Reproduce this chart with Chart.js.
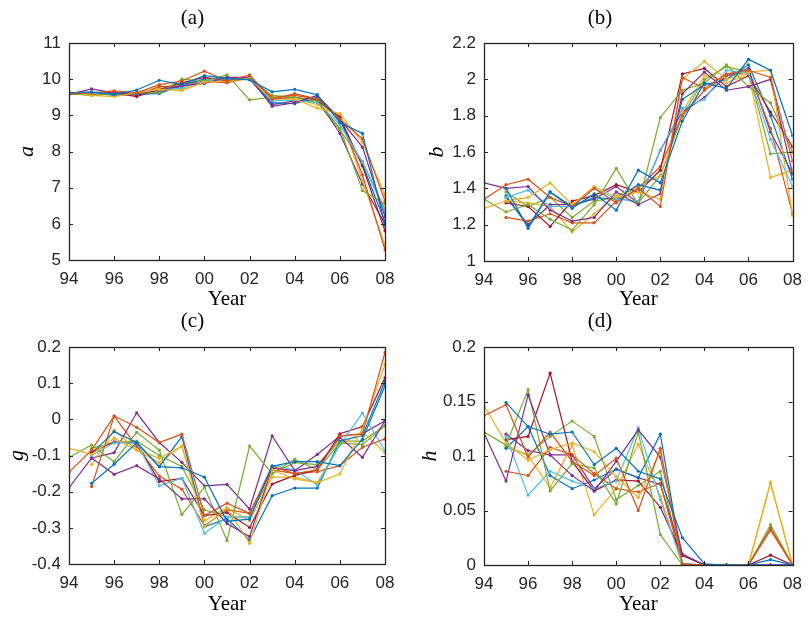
<!DOCTYPE html>
<html>
<head>
<meta charset="utf-8">
<script src="https://cdn.jsdelivr.net/npm/chart.js@4.4.0/dist/chart.umd.min.js"></script>
<style>
  body { margin: 0; background: #fff; }
  #wrap { position: relative; width: 811px; height: 617px; overflow: hidden; }
  canvas { position: absolute; }
</style>
</head>
<body>
<div id="wrap">
  <canvas id="chartA" width="420" height="312" style="left:0;top:0"></canvas>
  <canvas id="chartB" width="411" height="312" style="left:400px;top:0"></canvas>
  <canvas id="chartC" width="420" height="321" style="left:0;top:296px"></canvas>
  <canvas id="chartD" width="411" height="321" style="left:400px;top:296px"></canvas>
</div>
<script>
const years = [1994, 1995, 1996, 1997, 1998, 1999, 2000, 2001, 2002, 2003, 2004, 2005, 2006, 2007, 2008];
const colors = ['#0072BD', '#D95319', '#EDB120', '#7E2F8E', '#77AC30', '#4DBEEE', '#A2142F'];

const ticksA = [5, 6, 7, 8, 9, 10, 11];
const ticksB = [1, 1.2, 1.4, 1.6, 1.8, 2, 2.2];
const ticksC = [-0.4, -0.3, -0.2, -0.1, 0, 0.1, 0.2];
const ticksD = [0, 0.05, 0.1, 0.15, 0.2];

// panel (a)
const seriesA = [
  [9.62, 9.65, 9.58, 9.70, 9.97, 9.85, 10.10, 10.02, 9.98, 9.65, 9.72, 9.57, 8.80, 8.50, 5.97],
  [9.60, 9.62, 9.68, 9.62, 9.85, 9.95, 10.22, 9.95, 10.12, 9.45, 9.60, 9.45, 8.90, 8.35, 6.63],
  [9.65, 9.55, 9.52, 9.62, 9.72, 9.68, 9.92, 9.95, 10.02, 9.45, 9.45, 9.20, 9.05, 8.25, 6.80],
  [9.58, 9.73, 9.62, 9.60, 9.70, 9.82, 9.88, 10.05, 10.05, 9.25, 9.35, 9.55, 8.90, 8.12, 6.20],
  [9.60, 9.55, 9.60, 9.62, 9.62, 10.00, 9.95, 10.12, 9.43, 9.50, 9.50, 9.40, 8.65, 6.92, 6.55],
  [9.62, 9.60, 9.58, 9.65, 9.70, 9.75, 9.95, 10.00, 10.00, 9.40, 9.42, 9.35, 8.75, 7.70, 6.34],
  [9.60, 9.58, 9.62, 9.52, 9.72, 9.90, 10.05, 9.95, 10.05, 9.45, 9.50, 9.40, 8.95, 7.60, 5.81],
  [9.60, 9.62, 9.55, 9.58, 9.60, 9.85, 10.00, 10.05, 10.00, 9.35, 9.32, 9.50, 8.85, 7.65, 6.05],
  [9.58, 9.60, 9.65, 9.55, 9.80, 9.80, 9.95, 9.90, 10.05, 9.50, 9.55, 9.45, 8.95, 7.35, 5.28],
  [9.60, 9.58, 9.60, 9.60, 9.75, 9.72, 9.90, 9.95, 10.00, 9.50, 9.45, 9.30, 9.00, 7.20, 5.40],
  [9.60, 9.60, 9.58, 9.62, 9.65, 9.80, 9.95, 10.00, 10.00, 9.30, 9.40, 9.45, 8.50, 7.10, 6.00],
  [9.62, 9.55, 9.60, 9.60, 9.65, 9.90, 9.90, 10.05, 10.00, 9.55, 9.50, 9.35, 8.60, 7.72, 6.40]
];

// panel (b)
const seriesB = [
  [null, 1.40, 1.18, 1.38, 1.29, 1.37, 1.28, 1.50, 1.43, 1.77, 1.98, 1.95, 2.11, 2.05, 1.69],
  [1.34, 1.42, 1.45, 1.35, 1.30, 1.40, 1.32, 1.40, 1.30, 2.01, 1.95, 2.03, 2.05, 2.01, 1.55],
  [1.29, 1.33, 1.35, 1.43, 1.31, 1.41, 1.35, 1.38, 1.34, 2.00, 2.10, 2.00, 2.04, 2.05, 1.25],
  [1.43, 1.40, 1.41, 1.28, 1.22, 1.24, 1.38, 1.31, 1.37, 1.92, 2.04, 1.94, 1.96, 2.00, 1.48],
  [1.34, 1.27, 1.31, 1.23, 1.17, 1.31, 1.51, 1.31, 1.79, 1.94, 1.98, 2.08, 1.96, 1.87, 1.60],
  [null, 1.35, 1.39, 1.30, 1.30, 1.40, 1.34, 1.33, 1.61, 1.84, 1.89, 2.05, 2.03, 1.67, 1.41],
  [null, 1.32, 1.30, 1.19, 1.33, 1.36, 1.42, 1.38, 1.50, 2.03, 2.06, 1.96, 2.02, 1.82, 1.63],
  [null, 1.36, 1.19, 1.38, 1.30, 1.35, 1.34, 1.42, 1.39, 1.89, 1.97, 2.00, 2.08, 1.80, 1.45],
  [null, 1.24, 1.22, 1.26, 1.21, 1.21, 1.33, 1.40, 1.52, 1.80, 1.94, 2.02, 2.04, 1.73, 1.26],
  [null, 1.33, 1.32, 1.30, 1.16, 1.26, 1.36, 1.41, 1.47, 1.82, 2.02, 1.98, 2.03, 1.46, 1.50],
  [null, 1.35, 1.20, 1.31, 1.31, 1.34, 1.41, 1.32, 1.61, 1.82, 1.90, 2.02, 2.06, 1.71, 1.48],
  [null, 1.38, 1.30, 1.35, 1.24, 1.33, 1.35, 1.32, 1.47, 1.80, 2.00, 2.07, 2.04, 1.59, 1.60]
];

// panel (c)
const seriesC = [
  [null, -0.177, -0.124, -0.064, -0.131, -0.134, -0.160, -0.282, -0.276, -0.130, -0.117, -0.117, -0.128, -0.055, 0.093],
  [-0.146, -0.085, 0.009, -0.022, -0.064, -0.041, -0.266, -0.232, -0.260, -0.130, -0.150, -0.140, -0.046, -0.040, 0.185],
  [-0.080, -0.097, -0.052, -0.085, -0.108, -0.074, -0.297, -0.245, -0.343, -0.140, -0.165, -0.175, -0.151, -0.025, 0.152],
  [-0.189, -0.107, -0.152, -0.128, -0.165, -0.220, -0.220, -0.288, -0.324, -0.135, -0.142, -0.130, -0.050, -0.105, -0.004],
  [-0.105, -0.071, -0.117, -0.036, -0.085, -0.263, -0.188, -0.335, -0.074, -0.150, -0.110, -0.140, -0.065, -0.070, -0.018],
  [null, -0.100, -0.065, -0.065, -0.184, -0.163, -0.315, -0.270, -0.270, -0.127, -0.140, -0.181, -0.070, 0.017, -0.087],
  [null, -0.090, -0.062, -0.066, -0.172, -0.163, -0.266, -0.258, -0.299, -0.179, -0.155, -0.140, -0.040, -0.020, 0.115],
  [null, -0.095, -0.034, -0.064, -0.131, -0.048, -0.297, -0.275, -0.334, -0.211, -0.190, -0.190, -0.060, -0.045, 0.105],
  [null, -0.186, 0.009, -0.075, -0.157, -0.193, -0.294, -0.250, -0.260, -0.140, -0.150, -0.145, -0.128, -0.077, -0.054],
  [null, -0.125, -0.030, -0.085, -0.120, -0.074, -0.280, -0.245, -0.280, -0.160, -0.160, -0.175, -0.070, -0.035, -0.092],
  [null, -0.107, -0.092, 0.018, -0.064, -0.119, -0.184, -0.180, -0.248, -0.046, -0.142, -0.097, -0.046, -0.040, -0.004],
  [null, -0.080, -0.065, -0.060, -0.100, -0.130, -0.250, -0.270, -0.270, -0.150, -0.120, -0.125, -0.060, -0.060, -0.018]
];

// panel (d)
const seriesD = [
  [null, 0.149, 0.127, 0.120, 0.122, 0.092, 0.107, 0.086, 0.079, 0.025, 0.001, 0, 0, 0.005, 0],
  [0.137, 0.147, 0.099, 0.122, 0.095, 0.082, 0.098, 0.050, 0.107, 0.001, 0, 0, 0, 0.034, 0],
  [0.146, 0.112, 0.096, 0.106, 0.112, 0.104, 0.081, 0.062, 0.104, 0, 0, 0, 0, 0.076, 0],
  [0.121, 0.077, 0.156, 0.101, 0.082, 0.068, 0.095, 0.124, 0.099, 0.010, 0, 0, 0, 0, 0],
  [0.122, 0.110, 0.161, 0.068, 0.093, 0.089, 0.056, 0.122, 0.028, 0, 0, 0, 0, 0.037, 0],
  [null, 0.118, 0.064, 0.086, 0.077, 0.070, 0.077, 0.126, 0.060, 0.001, 0, 0, 0, 0, 0],
  [null, 0.115, 0.118, 0.176, 0.095, 0.068, 0.078, 0.077, 0.053, 0.009, 0, 0, 0, 0.009, 0],
  [null, 0.107, 0.127, 0.082, 0.070, 0.078, 0.088, 0.080, 0.120, 0.001, 0, 0, 0, 0, 0],
  [null, 0.086, 0.082, 0.108, 0.101, 0.084, 0.070, 0.067, 0.075, 0.001, 0, 0, 0, 0.032, 0],
  [null, 0.110, 0.100, 0.071, 0.110, 0.046, 0.070, 0.111, 0.063, 0, 0, 0, 0, 0.075, 0],
  [null, 0.120, 0.105, 0.101, 0.101, 0.070, 0.088, 0.080, 0.074, 0.009, 0, 0, 0, 0, 0],
  [null, 0.108, 0.101, 0.118, 0.132, 0.118, 0.060, 0.073, 0.086, 0, 0, 0, 0, 0, 0]
];

const axisColor = '#262626';
const tickFont = { family: 'Liberation Sans, Arial, sans-serif', size: 17 };
const serif = 'Liberation Serif, Times New Roman, serif';

// box round the plot with inward ticks on all four sides, like matlab
const framePlugin = {
  id: 'frame',
  afterDraw(chart) {
    const { ctx, chartArea: { left, right, top, bottom }, scales: { x, y } } = chart;
    const len = 4;
    ctx.save();
    ctx.strokeStyle = axisColor;
    ctx.lineWidth = 1;
    ctx.beginPath();
    x.ticks.forEach(t => {
      const px = Math.round(x.getPixelForValue(t.value)) + 0.5;
      ctx.moveTo(px, bottom); ctx.lineTo(px, bottom - len);
      ctx.moveTo(px, top); ctx.lineTo(px, top + len);
    });
    y.ticks.forEach(t => {
      const py = Math.round(y.getPixelForValue(t.value)) + 0.5;
      ctx.moveTo(left, py); ctx.lineTo(left + len, py);
      ctx.moveTo(right, py); ctx.lineTo(right - len, py);
    });
    ctx.stroke();
    ctx.lineWidth = 1.3;
    ctx.strokeRect(Math.round(left) + 0.5, Math.round(top) + 0.5, Math.round(right - left), Math.round(bottom - top));
    ctx.restore();
  }
};

function makePanel(id, p) {
  const canvas = document.getElementById(id);
  const datasets = p.series.map((vals, i) => ({
    data: years.map((yr, j) => ({ x: yr, y: vals[j] })),
    borderColor: colors[i % colors.length],
    backgroundColor: colors[i % colors.length],
    borderWidth: 1.2,
    pointRadius: 1.6,
    pointBorderWidth: 0,
    tension: 0
  }));

  new Chart(canvas, {
    type: 'line',
    data: { datasets },
    options: {
      responsive: false,
      animation: false,
      events: [],
      layout: { padding: { left: 0, right: canvas.width - p.right, top: 0, bottom: 0 } },
      plugins: {
        legend: { display: false },
        tooltip: { enabled: false },
        title: {
          display: true,
          text: p.title,
          color: '#000',
          font: { family: serif, size: 21, weight: 'normal', lineHeight: 1.2 },
          padding: { top: p.titleCenter - 12.6, bottom: p.top - p.titleCenter - 12.6 }
        }
      },
      scales: {
        x: {
          type: 'linear',
          min: 1994,
          max: 2008,
          grid: { display: false, drawTicks: false },
          border: { display: false },
          ticks: {
            stepSize: 2,
            autoSkip: false,
            maxRotation: 0,
            color: axisColor,
            font: tickFont,
            padding: 9,
            callback: v => String(v % 100).padStart(2, '0')
          },
          title: {
            display: true,
            text: 'Year',
            color: '#000',
            font: { family: serif, size: 21, lineHeight: 1.2 },
            padding: { top: 0, bottom: Math.max(0, canvas.height - p.yearCenter - 12.6) }
          },
          afterFit: s => { s.height = canvas.height - p.bottom; }
        },
        y: {
          min: p.ticks[0],
          max: p.ticks[p.ticks.length - 1],
          grid: { display: false, drawTicks: false },
          border: { display: false },
          afterBuildTicks: s => { s.ticks = p.ticks.map(v => ({ value: v })); },
          ticks: {
            color: axisColor,
            font: tickFont,
            padding: 8,
            callback: v => String(Number(v.toFixed(3)))
          },
          title: {
            display: true,
            text: p.ylabel,
            color: '#000',
            font: { family: serif, size: 22, style: 'italic', lineHeight: 1.2 },
            padding: { top: p.ylabelCenter - 13.2, bottom: 0 }
          },
          afterFit: s => { s.width = p.left; }
        }
      }
    },
    plugins: [framePlugin]
  });
}

// positions are in canvas pixels
makePanel('chartA', { series: seriesA, ticks: ticksA, title: '(a)', ylabel: 'a',
  left: 69, right: 385, top: 43, bottom: 260, titleCenter: 18, yearCenter: 300, ylabelCenter: 27 });
makePanel('chartB', { series: seriesB, ticks: ticksB, title: '(b)', ylabel: 'b',
  left: 84, right: 400, top: 43, bottom: 261, titleCenter: 18, yearCenter: 300, ylabelCenter: 37 });
makePanel('chartC', { series: seriesC, ticks: ticksC, title: '(c)', ylabel: 'g',
  left: 69, right: 385, top: 51, bottom: 268, titleCenter: 25, yearCenter: 308, ylabelCenter: 17 });
makePanel('chartD', { series: seriesD, ticks: ticksD, title: '(d)', ylabel: 'h',
  left: 84, right: 400, top: 51, bottom: 269, titleCenter: 25, yearCenter: 308, ylabelCenter: 30 });
</script>
</body>
</html>
